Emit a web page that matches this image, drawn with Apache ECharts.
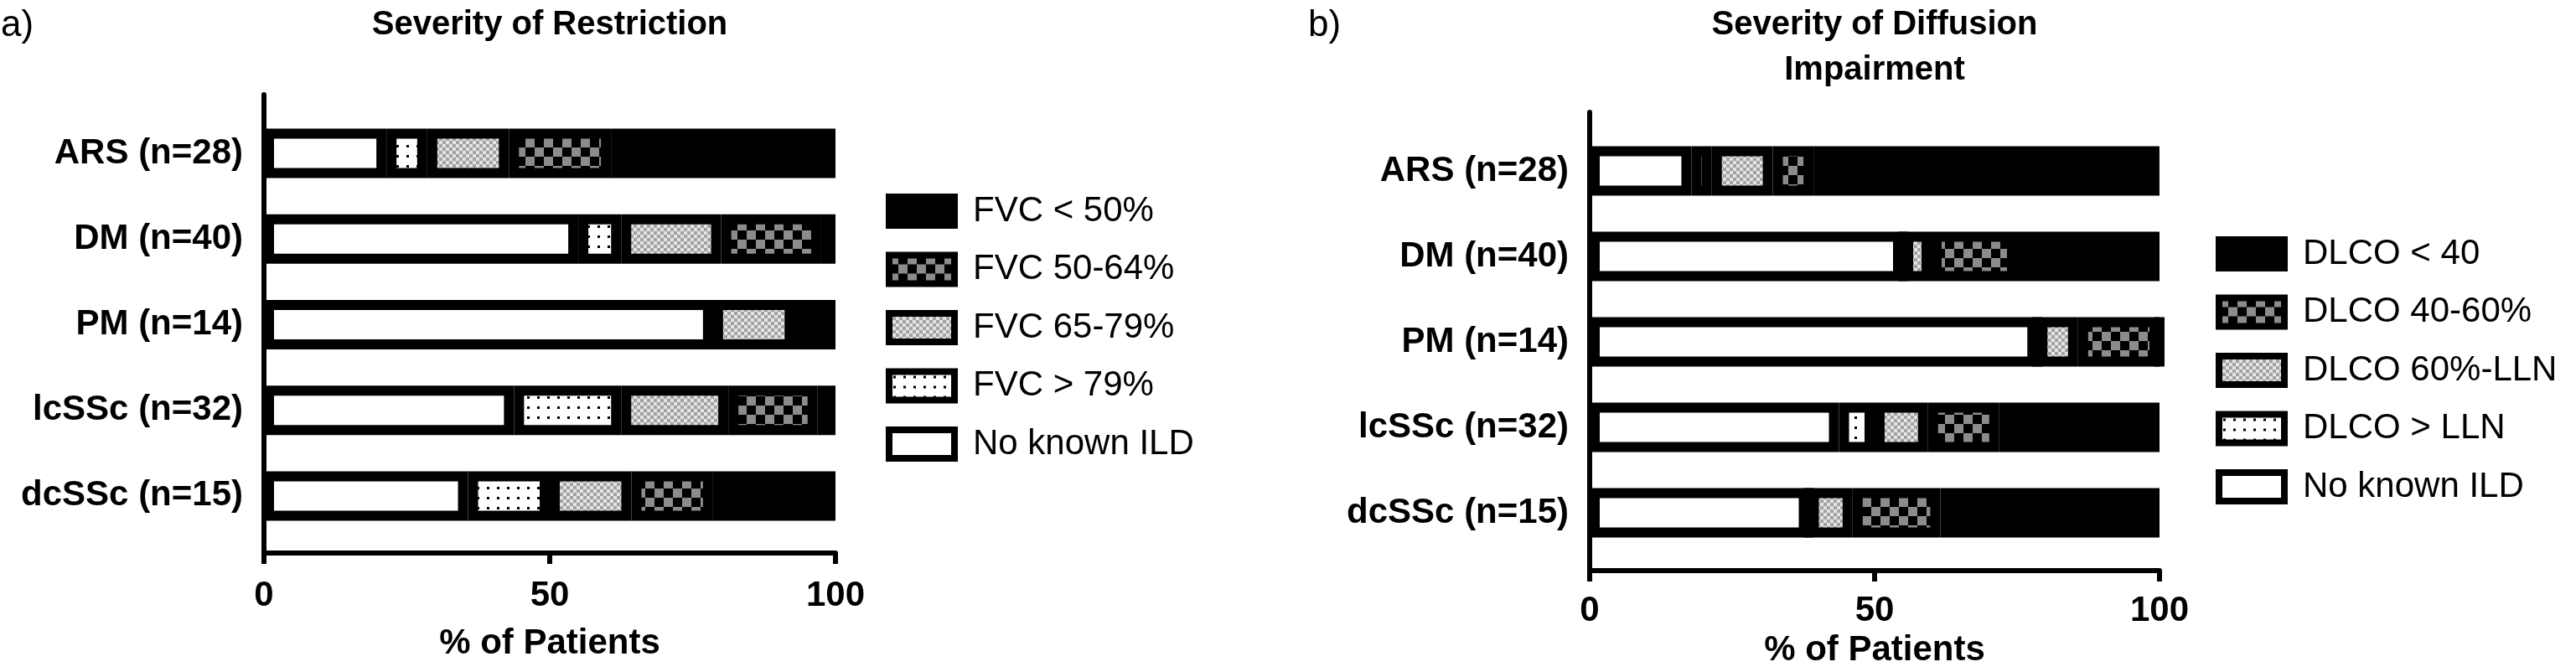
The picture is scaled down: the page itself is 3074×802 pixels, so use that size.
<!DOCTYPE html>
<html>
<head>
<meta charset="utf-8">
<script src="https://cdn.jsdelivr.net/npm/echarts@6/dist/echarts.min.js"></script>
<style>
  html, body { margin: 0; padding: 0; background: #fff; }
  #chart { width: 3074px; height: 802px; }
</style>
</head>
<body>
<div id="chart"></div>
<script>
// groups, top to bottom
const categories = ['ARS (n=28)', 'DM (n=40)', 'PM (n=14)', 'lcSSc (n=32)', 'dcSSc (n=15)'];

// a) severity of restriction, % of patients (stacked left to right)
const fvcNames = ['No known ILD', 'FVC > 79%', 'FVC 65-79%', 'FVC 50-64%', 'FVC < 50%'];
const fvcNoIld = [21.43, 55.0, 78.57, 43.75, 35.71];
const fvcOver79 = [7.14, 7.5, 0, 18.75, 14.29];
const fvc65to79 = [14.29, 17.5, 14.29, 18.75, 14.29];
const fvc50to64 = [17.86, 17.5, 0, 15.63, 14.29];
const fvcUnder50 = [39.28, 2.5, 7.14, 3.12, 21.42];

// b) severity of diffusion impairment
const dlcoNames = ['No known ILD', 'DLCO > LLN', 'DLCO 60%-LLN', 'DLCO 40-60%', 'DLCO < 40'];
const dlcoNoIld = [17.86, 55.0, 78.57, 43.75, 38.46];
const dlcoOverLln = [3.57, 0, 0, 6.25, 0];
const dlco60toLln = [10.71, 5.0, 7.14, 9.38, 7.69];
const dlco40to60 = [7.14, 15.0, 14.29, 12.5, 15.38];
const dlcoUnder40 = [60.71, 25.0, 0, 28.12, 38.47];

const xTicks = [0, 50, 100];

const FONT = '"Liberation Sans", Arial, sans-serif';

// fill patterns, drawn once on small canvases
function pattern(w, h, draw) {
    const c = document.createElement('canvas');
    c.width = w; c.height = h;
    draw(c.getContext('2d'));
    return { image: c, repeat: 'repeat' };
}
const dots = pattern(12, 12, ctx => {
    ctx.fillStyle = '#fff'; ctx.fillRect(0, 0, 12, 12);
    ctx.fillStyle = '#000'; ctx.fillRect(5, 5, 3, 3);
});
const fineCheck = pattern(8, 8, ctx => {
    ctx.fillStyle = '#e4e4e4'; ctx.fillRect(0, 0, 8, 8);
    ctx.fillStyle = '#a2a2a2'; ctx.fillRect(0, 0, 4, 4); ctx.fillRect(4, 4, 4, 4);
});
const coarseCheck = pattern(22, 22, ctx => {
    ctx.fillStyle = '#000'; ctx.fillRect(0, 0, 22, 22);
    ctx.fillStyle = '#8c8c8c'; ctx.fillRect(0, 0, 11, 11); ctx.fillRect(11, 11, 11, 11);
});
const fills = ['#ffffff', dots, fineCheck, coarseCheck, '#000000'];

function stackSeries(names, values, axisIdx, stackId) {
    return names.map((name, i) => ({
        name: name,
        type: 'bar',
        stack: stackId,
        xAxisIndex: axisIdx,
        yAxisIndex: axisIdx,
        barWidth: 59,
        silent: true,
        data: values[i],
        itemStyle: { color: fills[i], borderColor: '#000', borderWidth: 12 }
    }));
}

// each panel: a bar grid (category axis) and a frame grid (drawn axes)
function barAxes(gridIdx) {
    return {
        x: { type: 'value', gridIndex: gridIdx, min: 0, max: 100, show: false },
        y: {
            type: 'category', gridIndex: gridIdx, data: categories, inverse: true,
            axisLine: { show: false },
            axisTick: { alignWithLabel: true, length: 15, lineStyle: { color: '#000', width: 6 } },
            axisLabel: { margin: 25, color: '#000', fontSize: 42, fontWeight: 'bold', fontFamily: FONT }
        }
    };
}
function frameAxes(gridIdx, labelMargin, nameGap) {
    return {
        x: {
            type: 'value', gridIndex: gridIdx, min: xTicks[0], max: xTicks[xTicks.length - 1], interval: 50,
            axisLine: { lineStyle: { color: '#000', width: 6 } },
            axisTick: { length: 13, lineStyle: { color: '#000', width: 6 } },
            axisLabel: { margin: labelMargin, color: '#000', fontSize: 42, fontWeight: 'bold', fontFamily: FONT },
            splitLine: { show: false },
            name: '% of Patients', nameLocation: 'middle', nameGap: nameGap,
            nameTextStyle: { color: '#000', fontSize: 42, fontWeight: 'bold', fontFamily: FONT }
        },
        y: {
            type: 'value', gridIndex: gridIdx, min: 0, max: 1,
            axisLine: { show: true, lineStyle: { color: '#000', width: 6 } },
            axisTick: { show: false }, axisLabel: { show: false }, splitLine: { show: false }
        }
    };
}

const aBar = barAxes(0), aFrame = frameAxes(1, 30, 87);
const bBar = barAxes(2), bFrame = frameAxes(3, 27, 73);

function legend(names, left, top) {
    return {
        orient: 'vertical', left: left, top: top, padding: 0,
        icon: 'rect', itemWidth: 78, itemHeight: 34, itemGap: 27.5,
        selectedMode: false,
        data: names.slice().reverse(),
        itemStyle: { borderColor: '#000', borderWidth: 8 },
        textStyle: { color: '#000', fontSize: 42, lineHeight: 42, fontFamily: FONT, padding: [0, 0, 0, 17] }
    };
}

const titleStyle = (text, extra) => Object.assign({
    text: text, fill: '#000', fontSize: 40, fontWeight: 'bold', fontFamily: FONT,
    align: 'center', verticalAlign: 'middle'
}, extra || {});

const chart = echarts.init(document.getElementById('chart'), null, { renderer: 'canvas' });
chart.setOption({
    animation: false,
    backgroundColor: '#fff',
    grid: [
        { left: 315, width: 682, top: 132, height: 511 },
        { left: 315, width: 682, top: 113, height: 547 },
        { left: 1897, width: 680, top: 153, height: 510 },
        { left: 1897, width: 680, top: 134, height: 548 }
    ],
    xAxis: [aBar.x, aFrame.x, bBar.x, bFrame.x],
    yAxis: [aBar.y, aFrame.y, bBar.y, bFrame.y],
    legend: [legend(fvcNames, 1057, 231), legend(dlcoNames, 2644, 282)],
    graphic: [
        { type: 'text', x: 1, y: 31, style: titleStyle('a)', { fontWeight: 'normal', fontSize: 44, align: 'left' }) },
        { type: 'text', x: 656, y: 30, style: titleStyle('Severity of Restriction') },
        { type: 'text', x: 1561, y: 31, style: titleStyle('b)', { fontWeight: 'normal', fontSize: 44, align: 'left' }) },
        { type: 'text', x: 2237, y: 57, style: titleStyle('Severity of Diffusion\nImpairment', { lineHeight: 54 }) }
    ],
    series: [].concat(
        stackSeries(fvcNames, [fvcNoIld, fvcOver79, fvc65to79, fvc50to64, fvcUnder50], 0, 'fvc'),
        stackSeries(dlcoNames, [dlcoNoIld, dlcoOverLln, dlco60toLln, dlco40to60, dlcoUnder40], 2, 'dlco')
    )
});
</script>
</body>
</html>
